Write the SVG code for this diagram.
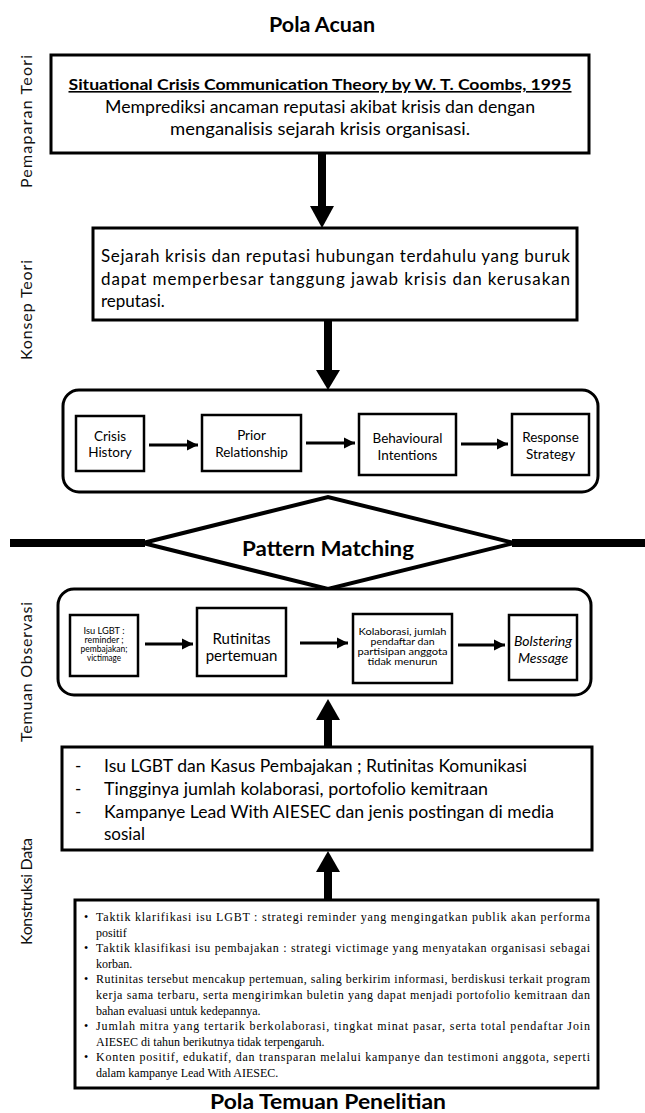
<svg xmlns="http://www.w3.org/2000/svg" width="645" height="1113" viewBox="0 0 645 1113">
<style>
.sans{font-family:Lato,"Liberation Sans",sans-serif;fill:#000}
.serif{font-family:"Liberation Serif","Times New Roman",serif;fill:#000;font-size:12px}
.box{fill:#fff;stroke:#000;stroke-width:3}
.ibox{fill:#fff;stroke:#000;stroke-width:2.5}
.cont{fill:#fff;stroke:#000;stroke-width:3}
.lbl{font-family:Lato,"Liberation Sans",sans-serif;font-size:16px;fill:#111;text-anchor:middle}
.c{text-anchor:middle}
.thin{stroke:#000;stroke-width:3;fill:none}
.thick{stroke:#000;stroke-width:8;fill:none}
</style>
<defs>
<marker id="ah" markerUnits="userSpaceOnUse" markerWidth="12" markerHeight="12" refX="11" refY="6" orient="auto">
<path d="M0,0.5 L11,6 L0,11.5 z" fill="#000"/>
</marker>
</defs>
<rect width="645" height="1113" fill="#fff"/>

<text class="sans c" x="322" y="32" font-size="20" font-weight="bold" textLength="106" lengthAdjust="spacingAndGlyphs">Pola Acuan</text>

<g id="labels">
<text class="lbl" transform="translate(31.5,121.5) rotate(-90)" textLength="133" lengthAdjust="spacing">Pemaparan  Teori</text>
<text class="lbl" transform="translate(31.5,310) rotate(-90)" textLength="100" lengthAdjust="spacing">Konsep  Teori</text>
<text class="lbl" transform="translate(31.5,672) rotate(-90)" textLength="140" lengthAdjust="spacing">Temuan Observasi</text>
<text class="lbl" transform="translate(31.5,891.5) rotate(-90)" textLength="107" lengthAdjust="spacing">Konstruksi Data</text>
</g>

<g id="pattern-bar">
<line class="thick" x1="10" y1="543" x2="145" y2="543"/>
<line class="thick" x1="512" y1="543" x2="645" y2="543"/>
</g>

<g id="box1">
<rect class="box" x="51" y="55" width="538" height="98"/>
<text class="sans c" x="320" y="90" font-size="16" font-weight="bold" text-decoration="underline" textLength="503" lengthAdjust="spacingAndGlyphs">Situational Crisis Communication Theory by W. T. Coombs, 1995</text>
<text class="sans c" x="320" y="113" font-size="17" textLength="430" lengthAdjust="spacingAndGlyphs">Memprediksi ancaman reputasi akibat krisis dan dengan</text>
<text class="sans c" x="320" y="135" font-size="17" textLength="300" lengthAdjust="spacingAndGlyphs">menganalisis sejarah krisis organisasi.</text>
</g>

<g id="box2">
<rect class="box" x="93" y="228" width="484" height="92"/>
<text class="sans" x="101" y="262" font-size="17" textLength="469" lengthAdjust="spacing">Sejarah krisis dan reputasi hubungan terdahulu yang buruk</text>
<text class="sans" x="101" y="285" font-size="17" textLength="469" lengthAdjust="spacing">dapat memperbesar tanggung jawab krisis dan kerusakan</text>
<text class="sans" x="101" y="307" font-size="17">reputasi.</text>
</g>

<g id="container1">
<rect class="cont" x="63" y="390" width="535" height="102" rx="16"/>
</g>
<g id="crisis-history">
<rect class="ibox" x="76" y="416" width="68" height="55"/>
<text class="sans c" font-size="13.5" x="110" y="441">Crisis</text>
<text class="sans c" font-size="13.5" x="110" y="457">History</text>
</g>
<g id="prior-relationship">
<rect class="ibox" x="202" y="415" width="99" height="56"/>
<text class="sans c" font-size="13.5" x="251.5" y="440">Prior</text>
<text class="sans c" font-size="13.5" x="251.5" y="457">Relationship</text>
</g>
<g id="behavioural-intentions">
<rect class="ibox" x="359" y="414" width="97" height="61"/>
<text class="sans c" font-size="13.5" x="407.5" y="443">Behavioural</text>
<text class="sans c" font-size="13.5" x="407.5" y="460">Intentions</text>
</g>
<g id="response-strategy">
<rect class="ibox" x="512" y="414" width="77" height="61"/>
<text class="sans c" font-size="13.5" x="550.5" y="442">Response</text>
<text class="sans c" font-size="13.5" x="550.5" y="459">Strategy</text>
</g>

<g id="pattern-matching">
<polygon points="143,543 328,497 514,543 328,589" fill="#fff" stroke="#000" stroke-width="4" stroke-linejoin="miter"/>
<text class="sans c" x="328" y="556" font-size="20" font-weight="bold" textLength="172" lengthAdjust="spacingAndGlyphs">Pattern Matching</text>
</g>

<g id="container2">
<rect class="cont" x="58" y="589" width="533" height="106" rx="16"/>
</g>
<g id="isu-lgbt">
<rect class="ibox" x="70" y="615" width="68" height="61"/>
<text class="sans c" font-size="8.5" x="104" y="634" textLength="41" lengthAdjust="spacingAndGlyphs">Isu LGBT :</text>
<text class="sans c" font-size="8.5" x="104" y="643" textLength="39" lengthAdjust="spacingAndGlyphs">reminder ;</text>
<text class="sans c" font-size="8.5" x="104" y="652" textLength="47" lengthAdjust="spacingAndGlyphs">pembajakan;</text>
<text class="sans c" font-size="8.5" x="104" y="661" textLength="34" lengthAdjust="spacingAndGlyphs">victimage</text>
</g>
<g id="rutinitas">
<rect class="ibox" x="197" y="608" width="89" height="68"/>
<text class="sans c" font-size="15" x="241.5" y="644">Rutinitas</text>
<text class="sans c" font-size="15" x="241.5" y="661">pertemuan</text>
</g>
<g id="kolaborasi">
<rect class="ibox" x="353" y="614" width="99" height="69"/>
<text class="sans c" font-size="9.5" x="402.5" y="635" textLength="88" lengthAdjust="spacingAndGlyphs">Kolaborasi, jumlah</text>
<text class="sans c" font-size="9.5" x="402.5" y="645" textLength="64" lengthAdjust="spacingAndGlyphs">pendaftar dan</text>
<text class="sans c" font-size="9.5" x="402.5" y="655" textLength="90" lengthAdjust="spacingAndGlyphs">partisipan anggota</text>
<text class="sans c" font-size="9.5" x="402.5" y="665" textLength="70" lengthAdjust="spacingAndGlyphs">tidak menurun</text>
</g>
<g id="bolstering">
<rect class="ibox" x="509" y="615" width="68" height="65"/>
<text class="sans c" font-size="14" font-style="italic" x="543" y="646">Bolstering</text>
<text class="sans c" font-size="14" font-style="italic" x="543" y="663">Message</text>
</g>

<g id="box3">
<rect class="box" x="62" y="747" width="530" height="103"/>
<g class="sans" font-size="17">
<text x="75" y="772">-</text>
<text x="75" y="795">-</text>
<text x="75" y="818">-</text>
<text x="104" y="772" textLength="423" lengthAdjust="spacingAndGlyphs">Isu LGBT dan Kasus Pembajakan ; Rutinitas Komunikasi</text>
<text x="104" y="795" textLength="384" lengthAdjust="spacingAndGlyphs">Tingginya jumlah kolaborasi, portofolio kemitraan</text>
<text x="104" y="818" textLength="450" lengthAdjust="spacingAndGlyphs">Kampanye Lead With AIESEC dan jenis postingan di media</text>
<text x="104" y="840">sosial</text>
</g>
</g>

<g id="box4">
<rect class="box" x="75" y="900" width="523" height="188"/>
<g class="serif">
<text x="84" y="921">•</text>
<text x="84" y="952.2">•</text>
<text x="84" y="983.4">•</text>
<text x="84" y="1030.2">•</text>
<text x="84" y="1061.4">•</text>
<text x="96" y="921" textLength="494" lengthAdjust="spacing">Taktik klarifikasi isu LGBT : strategi reminder yang mengingatkan publik akan performa</text>
<text x="96" y="936.6">positif</text>
<text x="96" y="952.2" textLength="494" lengthAdjust="spacing">Taktik klasifikasi isu pembajakan : strategi victimage yang menyatakan organisasi sebagai</text>
<text x="96" y="967.8">korban.</text>
<text x="96" y="983.4" textLength="494" lengthAdjust="spacing">Rutinitas tersebut mencakup pertemuan, saling berkirim informasi, berdiskusi terkait program</text>
<text x="96" y="999" textLength="494" lengthAdjust="spacing">kerja sama terbaru, serta mengirimkan buletin yang dapat menjadi portofolio kemitraan dan</text>
<text x="96" y="1014.6">bahan evaluasi untuk kedepannya.</text>
<text x="96" y="1030.2" textLength="494" lengthAdjust="spacing">Jumlah mitra yang tertarik berkolaborasi, tingkat minat pasar, serta total pendaftar Join</text>
<text x="96" y="1045.8">AIESEC di tahun berikutnya tidak terpengaruh.</text>
<text x="96" y="1061.4" textLength="494" lengthAdjust="spacing">Konten positif, edukatif, dan transparan melalui kampanye dan testimoni anggota, seperti</text>
<text x="96" y="1077">dalam kampanye Lead With AIESEC.</text>
</g>
</g>

<g id="connectors">
<line class="thick" x1="322" y1="153" x2="322" y2="208"/>
<polygon points="310,206 334,206 322,228" fill="#000"/>
<line class="thick" x1="328" y1="320" x2="328" y2="372"/>
<polygon points="316,370 340,370 328,390" fill="#000"/>
<line class="thick" x1="328" y1="747" x2="328" y2="718"/>
<polygon points="316,720 340,720 328,699" fill="#000"/>
<line class="thick" x1="328" y1="900" x2="328" y2="870"/>
<polygon points="316,872 340,872 328,851" fill="#000"/>
<line class="thin" x1="149" y1="445" x2="198" y2="445" marker-end="url(#ah)"/>
<line class="thin" x1="306" y1="443" x2="355" y2="443" marker-end="url(#ah)"/>
<line class="thin" x1="461" y1="444" x2="508" y2="444" marker-end="url(#ah)"/>
<line class="thin" x1="145" y1="644" x2="193" y2="644" marker-end="url(#ah)"/>
<line class="thin" x1="300" y1="643" x2="348" y2="643" marker-end="url(#ah)"/>
<line class="thin" x1="458" y1="645" x2="505" y2="645" marker-end="url(#ah)"/>
</g>

<text class="sans c" x="328" y="1109" font-size="20" font-weight="bold" textLength="236" lengthAdjust="spacingAndGlyphs">Pola Temuan Penelitian</text>
</svg>
